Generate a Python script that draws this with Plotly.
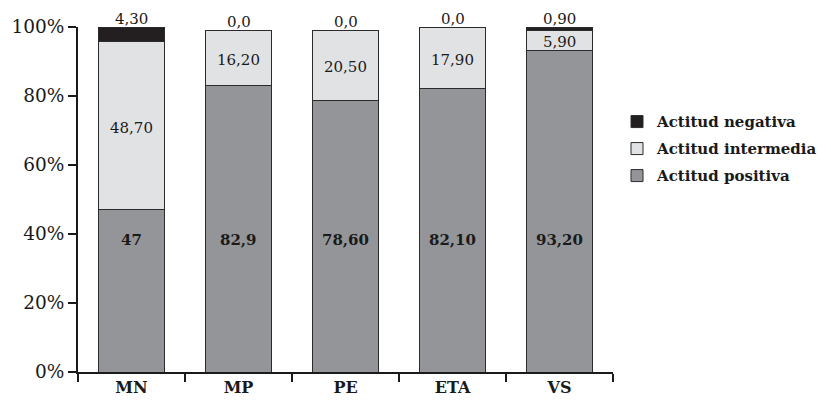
import plotly.graph_objects as go

categories = ["MN", "MP", "PE", "ETA", "VS"]
positiva = [47, 82.9, 78.6, 82.1, 93.2]
intermedia = [48.7, 16.2, 20.5, 17.9, 5.9]
negativa = [4.3, 0.0, 0.0, 0.0, 0.9]
lbl_pos = ["47", "82,9", "78,60", "82,10", "93,20"]
lbl_int = ["48,70", "16,20", "20,50", "17,90", "5,90"]
lbl_neg = ["4,30", "0,0", "0,0", "0,0", "0,90"]
y_ticks = [0, 20, 40, 60, 80, 100]
y_tick_text = ["0%", "20%", "40%", "60%", "80%", "100%"]

FONT = "DejaVu Serif"
outline = dict(color="#2b2b2b", width=1)

fig = go.Figure()
fig.add_trace(go.Bar(x=categories, y=positiva, name="Actitud positiva", legendgroup="p",
                     legendrank=3, marker=dict(color="#939598", line=outline), width=0.61))
fig.add_trace(go.Bar(x=categories, y=intermedia, name="Actitud intermedia", legendgroup="i",
                     legendrank=2, marker=dict(color="#e1e2e4", line=outline), width=0.61))
fig.add_trace(go.Bar(x=categories, y=negativa, name="Actitud negativa", legendgroup="n",
                     legendrank=1, marker=dict(color="#231f20", line=outline), width=0.61))

annotations = []
for i, c in enumerate(categories):
    annotations.append(dict(x=c, y=38.3, text=lbl_pos[i], showarrow=False,
                            font=dict(family=FONT, size=15, color="#1a1a1a", weight="bold"),
                            yanchor="middle"))
    annotations.append(dict(x=c, y=positiva[i] + intermedia[i] / 2, text=lbl_int[i], showarrow=False,
                            font=dict(family=FONT, size=15, color="#1a1a1a"), yanchor="middle",
                            yshift=-2))
    total = min(round(positiva[i] + intermedia[i] + negativa[i], 2), 100)
    annotations.append(dict(x=c, y=total, text=lbl_neg[i], showarrow=False,
                            font=dict(family=FONT, size=15, color="#1a1a1a"),
                            yanchor="bottom", yshift=-3))

fig.update_layout(
    barmode="stack",
    width=823, height=397,
    margin=dict(l=70, r=218, t=19, b=33, autoexpand=False),
    paper_bgcolor="white", plot_bgcolor="white",
    font=dict(family=FONT, color="#1a1a1a"),
    annotations=annotations,
    legend=dict(traceorder="grouped", tracegroupgap=4.5,
                x=1.0075, y=0.773, xanchor="left", yanchor="top",
                font=dict(family=FONT, size=15, color="#1a1a1a", weight="bold"),
                itemwidth=30, bgcolor="rgba(0,0,0,0)"),
    bargap=0.39,
)
fig.update_xaxes(showline=True, linecolor="#1a1a1a", linewidth=2, ticks="outside",
                 tickson="boundaries", ticklen=8, tickwidth=2, tickcolor="#1a1a1a",
                 tickfont=dict(family=FONT, size=16, color="#1a1a1a", weight="bold"),
                 showgrid=False, zeroline=False, automargin=False)
fig.update_yaxes(range=[0, 100], tickvals=y_ticks, ticktext=y_tick_text, showline=True,
                 linecolor="#1a1a1a", linewidth=2, ticks="outside", ticklen=8, tickwidth=2,
                 tickcolor="#1a1a1a", tickfont=dict(family=FONT, size=18.5, color="#1a1a1a"),
                 showgrid=False, zeroline=False, automargin=False)

fig.write_html("out.html")
